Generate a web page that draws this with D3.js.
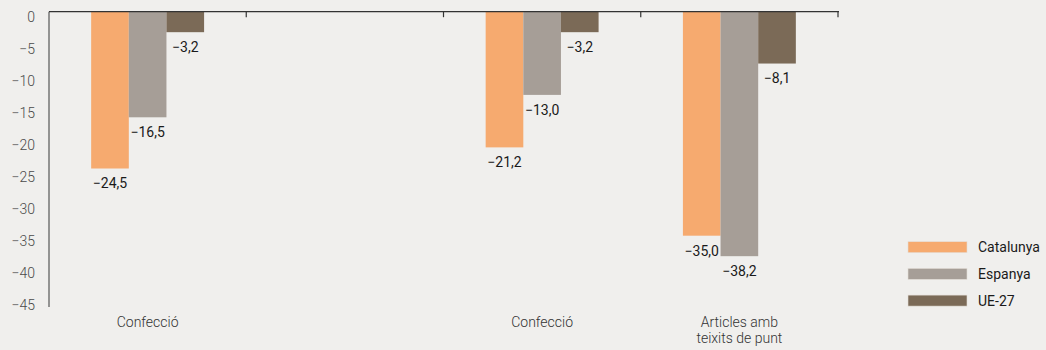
<!DOCTYPE html>
<html><head><meta charset="utf-8">
<script src="https://cdn.jsdelivr.net/npm/d3@7"></script>
<style>
body{margin:0;background:#f0efed;}
svg{display:block;font-family:Roboto, "Liberation Sans", sans-serif;}
</style></head>
<body><svg id="c" width="1046" height="350"></svg>
<script>
const categories = ["Confecció", "", "Confecció", "Articles amb|teixits de punt"];
const series = ["Catalunya", "Espanya", "UE-27"];
const catalunya = [-24.5, null, -21.2, -35.0];
const espanya = [-16.5, null, -13.0, -38.2];
const ue27 = [-3.2, null, -3.2, -8.1];
const yTicks = [0, -5, -10, -15, -20, -25, -30, -35, -40, -45];
const colors = ["#f6aa6f", "#a69e97", "#7b6a57"];

const values = [catalunya, espanya, ue27];
const svg = d3.select("#c");
const fmt = v => d3.format(".1f")(v).replace(".", ",").replace("-", "\u2212");

const x = d3.scaleBand().domain(d3.range(categories.length)).range([49, 838]);
const xs = d3.scaleBand().domain(series).range([0, x.bandwidth()]).paddingInner(0).paddingOuter(1.12);
const y = d3.scaleLinear().domain([0, -45]).range([11.7, 299.7]);

// bars
series.forEach((s, si) => {
  const data = values[si].map((v, i) => ({v, i})).filter(d => d.v != null);
  svg.append("g").selectAll("rect").data(data).join("rect")
    .attr("x", d => x(d.i) + xs(s))
    .attr("y", y(0))
    .attr("width", xs.bandwidth())
    .attr("height", d => y(d.v) - y(0))
    .attr("fill", colors[si]);
  svg.append("g").selectAll("text").data(data).join("text")
    .attr("x", d => x(d.i) + xs(s) + xs.bandwidth() / 2)
    .attr("y", d => y(d.v) + 15)
    .attr("dy", "0.35em")
    .attr("text-anchor", "middle")
    .attr("font-size", 14)
    .attr("fill", "#1a1a1a")
    .text(d => fmt(d.v));
});

// y axis
const ya = svg.append("g").attr("transform", "translate(49,0)")
  .call(d3.axisLeft(y).tickValues(yTicks).tickSize(0).tickPadding(14)
    .tickFormat(d => d === 0 ? "0" : "\u2212" + Math.abs(d)));
ya.select(".domain").remove();
ya.selectAll("text").attr("font-size", 14).attr("fill", "#4a4a4a")
  .attr("font-family", "Roboto, sans-serif").attr("font-weight", 300)
  .attr("transform", "translate(0,5.5)");
svg.append("line").attr("x1", 49).attr("x2", 49).attr("y1", y(0)).attr("y2", 307)
  .attr("stroke", "#555").attr("stroke-width", 1.2);

// top x axis
const xa = svg.append("g").attr("transform", `translate(0,${y(0)})`);
xa.append("line").attr("x1", 49).attr("x2", 839).attr("stroke", "#333").attr("stroke-width", 1.2);
xa.selectAll("line.t").data(d3.range(1, categories.length + 1)).join("line").attr("class", "t")
  .attr("x1", i => x.range()[0] + i * x.step()).attr("x2", i => x.range()[0] + i * x.step())
  .attr("y1", 0).attr("y2", 5.5).attr("stroke", "#333").attr("stroke-width", 1.2);

// category labels
categories.forEach((c, i) => {
  const lines = c.split("|");
  const t = svg.append("text").attr("text-anchor", "middle").attr("font-size", 14)
    .attr("fill", "#333").attr("font-weight", 300);
  lines.forEach((l, li) => {
    t.append("tspan").attr("x", x(i) + x.bandwidth() / 2).attr("y", 322 + li * 16)
      .attr("dy", "0.35em").text(l);
  });
});

// legend
const lg = svg.append("g");
series.forEach((s, si) => {
  const yy = 241.7 + si * 26.7;
  lg.append("rect").attr("x", 908).attr("y", yy).attr("width", 59).attr("height", 11)
    .attr("fill", colors[si]).attr("stroke", "#e4ded8").attr("stroke-width", 0.6);
  lg.append("text").attr("x", 978).attr("y", yy + 5.5).attr("dy", "0.35em")
    .attr("font-size", 14).attr("fill", "#1a1a1a").text(s);
});
</script></body></html>
